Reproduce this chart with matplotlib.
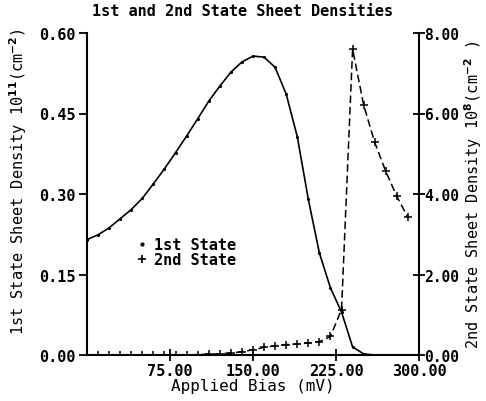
import matplotlib
matplotlib.use("Agg")
import matplotlib.pyplot as plt
from matplotlib.lines import Line2D

# applied bias (mV)
bias_1st = [0, 10, 20, 30, 40, 50, 60, 70, 80, 90, 100, 110, 120, 130, 140,
            150, 160, 170, 180, 190, 200, 210, 220, 230, 240, 250, 260, 270, 280, 290]
dens_1st = [0.215, 0.224, 0.237, 0.254, 0.271, 0.292, 0.319, 0.347, 0.377, 0.408,
            0.440, 0.473, 0.501, 0.527, 0.546, 0.557, 0.555, 0.536, 0.486, 0.407,
            0.290, 0.190, 0.125, 0.080, 0.015, 0.002, 0.0, 0.0, 0.0, 0.0]

bias_2nd = [0, 10, 20, 30, 40, 50, 60, 70, 80, 90, 100, 110, 120, 130, 140,
            150, 160, 170, 180, 190, 200, 210, 220, 230, 240, 250, 260, 270, 280, 290]
dens_2nd = [0.0, 0.0, 0.0, 0.0, 0.0, 0.0, 0.0, 0.0, 0.0, 0.0, 0.01, 0.02, 0.03, 0.05, 0.08,
            0.13, 0.19, 0.23, 0.26, 0.27, 0.30, 0.33, 0.46, 1.13, 7.60, 6.21, 5.28, 4.56, 3.94, 3.42]

x_ticks = [75, 150, 225, 300]
left_ticks = [0.0, 0.15, 0.30, 0.45, 0.60]
right_ticks = [0, 2, 4, 6, 8]

plt.rcParams["font.family"] = "DejaVu Sans Mono"
plt.rcParams["font.weight"] = "bold"

fig = plt.figure(figsize=(4.86, 4.02), dpi=100)
ax = fig.add_axes([87 / 486, 46 / 402, 332 / 486, 322 / 402])
ax2 = ax.twinx()

ax.plot(bias_1st, dens_1st, color="black", lw=1.2, marker=".", ms=2.5)
ax2.plot(bias_2nd, dens_2nd, color="black", lw=1.1, ls=(0, (5, 2.5)), marker="+", ms=6, mew=1.1)

ax.set_xlim(0, 300)
ax.set_ylim(0, 0.60)
ax2.set_ylim(0, 8)

ax.set_xticks(x_ticks)
ax.set_xticklabels([f"{v:.2f}" for v in x_ticks])
ax.set_yticks(left_ticks)
ax.set_yticklabels([f"{v:.2f}" for v in left_ticks])
ax2.set_yticks(right_ticks)
ax2.set_yticklabels([f"{v:.2f}" for v in right_ticks])

for a in (ax, ax2):
    a.spines["top"].set_visible(False)
    for s in a.spines.values():
        s.set_linewidth(1.5)
ax.spines["right"].set_visible(False)
ax2.spines["left"].set_visible(False)
ax2.spines["bottom"].set_visible(False)

ax.tick_params(axis="y", direction="out", length=6, width=1.3, labelsize=11, pad=2)
ax.tick_params(axis="x", direction="inout", length=8, width=1.3, labelsize=11, pad=2)
ax2.tick_params(axis="y", direction="inout", length=8, width=1.3, labelsize=10.5, pad=0)

ax.set_xlabel("Applied Bias (mV)", fontsize=11.5, labelpad=0)
ax.set_ylabel("1st State Sheet Density 10$^{11}$(cm$^{-2}$)", fontsize=11)
ax.yaxis.set_label_coords(-0.175, 0.54)
ax2.set_ylabel("2nd State Sheet Density 10$^{8}$(cm$^{-2}$ )", fontsize=11, rotation=90, labelpad=2)
fig.text(243 / 486, 1 - 12 / 402, "1st and 2nd State Sheet Densities",
         ha="center", va="center", fontsize=11, fontweight="bold")

handles = [Line2D([], [], color="black", ls="none", marker=".", ms=4),
           Line2D([], [], color="black", ls="none", marker="+", ms=6, mew=1.2)]
ax.legend(handles, ["1st State", "2nd State"], loc="center left",
          bbox_to_anchor=(0.12, 0.32), frameon=False, handlelength=1.0,
          handletextpad=0.3, labelspacing=0.0, fontsize=11, borderpad=0)

fig.savefig("out.png", dpi=100)
